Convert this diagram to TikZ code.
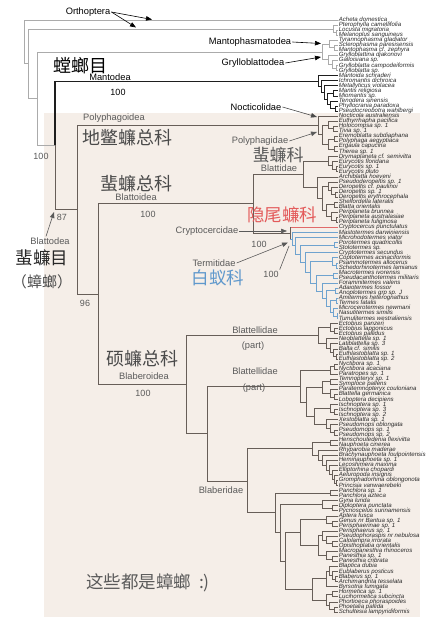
\documentclass[tikz,border=0pt]{standalone}
\usepackage{fontspec}
\setmainfont{Liberation Sans}
\newfontfamily\cjk{Noto Sans CJK SC}
\usetikzlibrary{arrows.meta}
\pgfmathdeclarefunction{ty}{1}{\pgfmathparse{20+5.06*(#1-1)}}
\definecolor{outg}{HTML}{ABABAB}
\definecolor{mant}{HTML}{1E1E1E}
\definecolor{blat}{HTML}{675E58}
\definecolor{term}{HTML}{6FA3CF}
\definecolor{crypt}{HTML}{E06A6A}
\definecolor{bgc}{HTML}{F5EEE8}
\definecolor{tipc}{HTML}{2A2A2A}
\definecolor{graytxt}{HTML}{5A5A5A}
\definecolor{cjkgray}{HTML}{4A4A4A}
\definecolor{redtxt}{HTML}{E35A5A}
\definecolor{bluetxt}{HTML}{5F98CC}
\newcommand\tipnode[2]{\node[tiplab] (t#1) at (338,{ty(#1)}) {#2};}
\newcommand\innode[3]{\coordinate (#1) at (#2,{ty(#3)});}
\newcommand\br[3][]{\draw[#1] (#2) |- (#3);}
\newcommand\brt[2]{\draw (#1) |- (t#2.west);}
\begin{document}
\begin{tikzpicture}[x=1pt,y=-1pt,
  tiplab/.style={anchor=west,inner sep=0.6pt,font=\fontsize{6.1}{6.5}\selectfont\itshape,text=tipc,text height=4.2pt,text depth=1.2pt},
  lab/.style={inner sep=1pt,font=\fontsize{9.3}{11}\selectfont,text=black},
  glab/.style={lab,text=graytxt},
  num/.style={inner sep=1pt,font=\fontsize{9}{10}\selectfont,text=graytxt},
  cjklab/.style={inner sep=1pt,font=\cjk\fontsize{18}{20}\selectfont,text=cjkgray},
  arr/.style={-{Triangle[length=6pt,width=4.5pt]},line width=0.6pt},
  tree/.style={line width=0.7pt}]
\useasboundingbox (0,0) rectangle (430,620);
\fill[white] (0,0) rectangle (430,620);
\fill[bgc] (44,113) rectangle (420,617);

% ---------- tips ----------
\tipnode{1}{Acheta domestica}
\tipnode{2}{Pterophylla camellifolia}
\tipnode{3}{Locusta migratoria}
\tipnode{4}{Melanoplus sanguineus}
\tipnode{5}{Tyrannophasma gladiator}
\tipnode{6}{Sclerophasma paresisensis}
\tipnode{7}{Mantophasma cf. zephyra}
\tipnode{8}{Grylloblattina djakonovi}
\tipnode{9}{Galloisiana sp.}
\tipnode{10}{Grylloblatta campodeiformis}
\tipnode{11}{Grylloblatta sp.}
\tipnode{12}{Mantoida schraderi}
\tipnode{13}{Ichromantis dichroica}
\tipnode{14}{Metallyticus violacea}
\tipnode{15}{Mantis religiosa}
\tipnode{16}{Miomantis sp.}
\tipnode{17}{Tenodera sinensis}
\tipnode{18}{Phyllocrania paradoxa}
\tipnode{19}{Pseudocreobotra wahlbergi}
\tipnode{20}{Nocticola australiensis}
\tipnode{21}{Euthyrrhapha pacifica}
\tipnode{22}{Holocompsa sp. 1}
\tipnode{23}{Tivia sp. 1}
\tipnode{24}{Eremoblatta subdiaphana}
\tipnode{25}{Polyphaga aegyptiaca}
\tipnode{26}{Ergaula capucina}
\tipnode{27}{Therea sp. 1}
\tipnode{28}{Drymaplaneta cf. semivitta}
\tipnode{29}{Eurycotis floridana}
\tipnode{30}{Eurycotis sp. 1}
\tipnode{31}{Eurycotis pluto}
\tipnode{32}{Archiblatta hoeveni}
\tipnode{33}{Pseudoderopeltis sp. 1}
\tipnode{34}{Deropeltis cf. paulinoi}
\tipnode{35}{Deropeltis sp. 1}
\tipnode{36}{Deropeltis erythrocephala}
\tipnode{37}{Shelfordella lateralis}
\tipnode{38}{Blatta orientalis}
\tipnode{39}{Periplaneta brunnea}
\tipnode{40}{Periplaneta australasiae}
\tipnode{41}{Periplaneta fuliginosa}
\tipnode{42}{Cryptocercus punctulatus}
\tipnode{43}{Mastotermes darwiniensis}
\tipnode{44}{Microhodotermes viator}
\tipnode{45}{Porotermes quadricollis}
\tipnode{46}{Stolotermes sp.}
\tipnode{47}{Cryptotermes secundus}
\tipnode{48}{Coptotermes acinaciformis}
\tipnode{49}{Psammotermes allocerus}
\tipnode{50}{Schedorhinotermes lamianus}
\tipnode{51}{Macrotermes ivorensis}
\tipnode{52}{Pseudacanthotermes militaris}
\tipnode{53}{Foraminitermes valens}
\tipnode{54}{Adaiotermes fossor}
\tipnode{55}{Anoplotermes grp sp. J}
\tipnode{56}{Amitermes heterognathus}
\tipnode{57}{Termes fatalis}
\tipnode{58}{Microcerotermes newmani}
\tipnode{59}{Nasutitermes similis}
\tipnode{60}{Tumulitermes westraliensis}
\tipnode{61}{Ectobius panzeri}
\tipnode{62}{Ectobius lapponicus}
\tipnode{63}{Ectobius pallidus}
\tipnode{64}{Neoblattella sp. 1}
\tipnode{65}{Latiblattella sp. 3}
\tipnode{66}{Balta cf. similis}
\tipnode{67}{Euthlastoblatta sp. 1}
\tipnode{68}{Euthlastoblatta sp. 2}
\tipnode{69}{Nyctibora sp. 1}
\tipnode{70}{Nyctibora acaciana}
\tipnode{71}{Paratropes sp. 1}
\tipnode{72}{Temnopteryx sp. 1}
\tipnode{73}{Symploce pallens}
\tipnode{74}{Paratemnopteryx couloniana}
\tipnode{75}{Blattella germanica}
\tipnode{76}{Loboptera decipiens}
\tipnode{77}{Ischnoptera sp. 1}
\tipnode{78}{Ischnoptera sp. 3}
\tipnode{79}{Ischnoptera sp. 2}
\tipnode{80}{Xestoblatta sp. 1}
\tipnode{81}{Pseudomops oblongata}
\tipnode{82}{Pseudomops sp. 1}
\tipnode{83}{Pseudomops sp. 2}
\tipnode{84}{Henschoutedenia flexivitta}
\tipnode{85}{Nauphoeta cinerea}
\tipnode{86}{Rhyparobia maderae}
\tipnode{87}{Brachynauphoeta foulpointensis}
\tipnode{88}{Heminauphoeta sp. 1}
\tipnode{89}{Lecoshimera maxima}
\tipnode{90}{Elliptorhina chopardi}
\tipnode{91}{Aeluropoda insignis}
\tipnode{92}{Gromphadorhina oblongonota}
\tipnode{93}{Princisia vanwaerebeki}
\tipnode{94}{Panchlora sp. 1}
\tipnode{95}{Panchlora azteca}
\tipnode{96}{Gyna lurida}
\tipnode{97}{Diploptera punctata}
\tipnode{98}{Pycnoscelus surinamensis}
\tipnode{99}{Aptera fusca}
\tipnode{100}{Genus nr Bantua sp. 1}
\tipnode{101}{Perisphaerinae sp. 1}
\tipnode{102}{Perisphaerus sp. 1}
\tipnode{103}{Pseudophoraspis nr nebulosa}
\tipnode{104}{Calolampra irrorata}
\tipnode{105}{Opisthoplatia orientalis}
\tipnode{106}{Macropanesthia rhinoceros}
\tipnode{107}{Panesthia sp. 1}
\tipnode{108}{Panesthia cribrata}
\tipnode{109}{Blaptica dubia}
\tipnode{110}{Eublaberus posticus}
\tipnode{111}{Blaberus sp. 1}
\tipnode{112}{Archimandrita tesselata}
\tipnode{113}{Byrsotria fumigata}
\tipnode{114}{Hormetica sp. 1}
\tipnode{115}{Lucihormetica subcincta}
\tipnode{116}{Phortioeca phoraspoides}
\tipnode{117}{Phoetalia pallida}
\tipnode{118}{Schultesia lampyridiformis}

% ---------- internal nodes ----------
\innode{R}{24}{5.33}
\innode{A}{28}{9.65}
\innode{O}{333}{2.75} \innode{O2}{336}{3.5}
\innode{B}{37}{16.55}
\innode{MG}{322}{7.31}
\innode{M}{329}{5.75} \innode{M2}{334}{6.5}
\innode{G}{328}{8.875} \innode{G2}{332}{9.75} \innode{G3}{336}{10.5}
\innode{C}{55}{25.79}
\innode{Ma}{318}{13.08} \innode{Ma2}{321}{14.16} \innode{Ma3}{324}{15.31}
\innode{Ma4}{327}{16.625} \innode{Ma5}{333}{15.5} \innode{Ma6}{330}{17.75} \innode{Ma7}{335}{18.5}
\innode{Bl}{77}{38.5}
\innode{Po}{318}{21.81} \innode{Py}{322}{23.625}
\innode{P1}{328}{21.75} \innode{P1b}{333}{22.5}
\innode{P2}{328}{25.5} \innode{P2a}{334}{24.5} \innode{P2b}{334}{26.5}
\innode{BBB}{98}{55.18}
\innode{Bo}{253}{37.33}
\innode{Bt}{303}{31.5}
\innode{G1n}{328}{28.875} \innode{G1b}{332}{29.75} \innode{G1c}{336}{30.5}
\innode{G2n}{317}{34.125} \innode{G3n}{322}{36.25}
\innode{G4}{328}{33.875} \innode{G4b}{331}{34.75} \innode{G4c}{335}{35.5}
\innode{G5}{326}{38.625} \innode{G5a}{334}{37.5} \innode{G5b}{331}{39.75} \innode{G5c}{336}{40.5}
\innode{CT}{290}{43.15}
\innode{T0}{292}{44.3} \innode{T1}{295}{45.61} \innode{T2}{300}{47.22} \innode{T2a}{334}{45.5}
\innode{T3}{305}{48.94} \innode{T4}{310}{50.88} \innode{T4a}{332}{48.75} \innode{T4b}{336}{49.5}
\innode{T5}{316}{53.02} \innode{T5a}{333}{51.5} \innode{T6}{322}{54.53}
\innode{T7}{326}{56.06} \innode{T7a}{335}{54.5} \innode{T8}{330}{57.625} \innode{T8a}{336}{56.5}
\innode{T9}{333}{58.75} \innode{T9b}{337}{59.5}
\innode{BB}{186}{73.03}
\innode{Bl1}{318}{63.34} \innode{E1}{330}{61.75} \innode{E1b}{334}{62.5}
\innode{E2}{326}{64.94} \innode{E3}{330}{65.875} \innode{E4}{333}{66.75} \innode{E5}{336}{67.5}
\innode{Bl2}{207}{82.72}
\innode{N}{300}{73.36} \innode{N1}{330}{70.25} \innode{N1a}{334}{69.5}
\innode{N2}{306}{76.47} \innode{N3a}{322}{73.625} \innode{N3a1}{330}{72.5} \innode{N3a2}{330}{74.75} \innode{N3a3}{334}{75.5}
\innode{N2b}{314}{79.31} \innode{N3b}{330}{77.75} \innode{N3b1}{334}{78.5}
\innode{N4}{326}{80.875} \innode{N4a}{330}{81.75} \innode{N4b}{334}{82.5}
\innode{Bb}{247}{92.08}
\innode{H1}{312}{85.75} \innode{H1a}{330}{84.5} \innode{H1b}{318}{86.99} \innode{H1c}{322}{87.98}
\innode{H1d}{326}{88.97} \innode{H1e}{329}{89.94} \innode{H1f}{332}{90.875} \innode{H1g}{334}{91.75} \innode{H1h}{336}{92.5}
\innode{H2}{275}{98.4} \innode{Pc}{330}{94.5}
\innode{H3}{280}{102.33} \innode{Gy}{322}{96.75} \innode{Gya}{332}{97.5}
\innode{H4}{285}{107.9}
\innode{H5}{300}{102.28} \innode{H5a}{326}{99.75} \innode{H5a1}{332}{100.5}
\innode{H5b}{318}{104.81} \innode{H5c}{322}{102.875} \innode{H5c1}{326}{103.75} \innode{H5c2}{332}{104.5}
\innode{H5d}{326}{106.75} \innode{H5d1}{332}{107.5}
\innode{H6}{312}{113.53} \innode{H6a}{326}{111.44} \innode{H6a1}{329}{109.875} \innode{H6a2}{332}{110.75} \innode{H6a3}{335}{111.5}
\innode{H6b}{326}{115.625} \innode{H6b1}{332}{114.5} \innode{H6b2}{329}{116.75} \innode{H6b3}{334}{117.5}

% ---------- outgroups ----------
\begin{scope}[tree,color=outg]
\brt{R}{1} \br{R}{A}
\br{A}{O} \br{A}{B}
\brt{O}{2} \br{O}{O2} \brt{O2}{3} \brt{O2}{4}
\br{B}{MG} \br{B}{C}
\br{MG}{M} \br{MG}{G}
\brt{M}{5} \br{M}{M2} \brt{M2}{6} \brt{M2}{7}
\brt{G}{8} \br{G}{G2} \brt{G2}{9} \br{G2}{G3} \brt{G3}{10} \brt{G3}{11}
\end{scope}

% ---------- Mantodea ----------
\begin{scope}[tree,color=mant]
\br[line width=1.1pt]{C}{Ma}
\brt{Ma}{12} \br{Ma}{Ma2} \brt{Ma2}{13} \br{Ma2}{Ma3} \brt{Ma3}{14} \br{Ma3}{Ma4}
\br{Ma4}{Ma5} \br{Ma4}{Ma6} \brt{Ma5}{15} \brt{Ma5}{16}
\brt{Ma6}{17} \br{Ma6}{Ma7} \brt{Ma7}{18} \brt{Ma7}{19}
\end{scope}

% ---------- Blattodea ----------
\begin{scope}[tree,color=blat]
\br{C}{Bl}
\br{Bl}{Po} \br{Bl}{BBB}
\brt{Po}{20} \br{Po}{Py} \br{Py}{P1} \br{Py}{P2}
\brt{P1}{21} \br{P1}{P1b} \brt{P1b}{22} \brt{P1b}{23}
\br{P2}{P2a} \br{P2}{P2b} \brt{P2a}{24} \brt{P2a}{25} \brt{P2b}{26} \brt{P2b}{27}
\br{BBB}{Bo} \br{BBB}{BB}
\br{Bo}{Bt} \br{Bo}{CT}
\br{Bt}{G1n} \br{Bt}{G2n}
\brt{G1n}{28} \br{G1n}{G1b} \brt{G1b}{29} \br{G1b}{G1c} \brt{G1c}{30} \brt{G1c}{31}
\brt{G2n}{32} \br{G2n}{G3n} \br{G3n}{G4} \br{G3n}{G5}
\brt{G4}{33} \br{G4}{G4b} \brt{G4b}{34} \br{G4b}{G4c} \brt{G4c}{35} \brt{G4c}{36}
\br{G5}{G5a} \br{G5}{G5b} \brt{G5a}{37} \brt{G5a}{38}
\brt{G5b}{39} \br{G5b}{G5c} \brt{G5c}{40} \brt{G5c}{41}
% Blaberoidea
\br{BB}{Bl1} \br{BB}{Bl2}
\br{Bl1}{E1} \br{Bl1}{E2}
\brt{E1}{61} \br{E1}{E1b} \brt{E1b}{62} \brt{E1b}{63}
\brt{E2}{64} \br{E2}{E3} \brt{E3}{65} \br{E3}{E4} \brt{E4}{66} \br{E4}{E5} \brt{E5}{67} \brt{E5}{68}
\br{Bl2}{N} \br{Bl2}{Bb}
\br{N}{N1} \br{N}{N2}
\br{N1}{N1a} \brt{N1}{71} \brt{N1a}{69} \brt{N1a}{70}
\br{N2}{N3a} \br{N2}{N2b}
\br{N3a}{N3a1} \br{N3a}{N3a2} \brt{N3a1}{72} \brt{N3a1}{73}
\brt{N3a2}{74} \br{N3a2}{N3a3} \brt{N3a3}{75} \brt{N3a3}{76}
\br{N2b}{N3b} \br{N2b}{N4}
\brt{N3b}{77} \br{N3b}{N3b1} \brt{N3b1}{78} \brt{N3b1}{79}
\brt{N4}{80} \br{N4}{N4a} \brt{N4a}{81} \br{N4a}{N4b} \brt{N4b}{82} \brt{N4b}{83}
\br{Bb}{H1} \br{Bb}{H2}
\br{H1}{H1a} \br{H1}{H1b} \brt{H1a}{84} \brt{H1a}{85}
\brt{H1b}{86} \br{H1b}{H1c} \brt{H1c}{87} \br{H1c}{H1d} \brt{H1d}{88} \br{H1d}{H1e}
\brt{H1e}{89} \br{H1e}{H1f} \brt{H1f}{90} \br{H1f}{H1g} \brt{H1g}{91} \br{H1g}{H1h}
\brt{H1h}{92} \brt{H1h}{93}
\br{H2}{Pc} \br{H2}{H3} \brt{Pc}{94} \brt{Pc}{95}
\br{H3}{Gy} \br{H3}{H4} \brt{Gy}{96} \br{Gy}{Gya} \brt{Gya}{97} \brt{Gya}{98}
\br{H4}{H5} \br{H4}{H6}
\br{H5}{H5a} \br{H5}{H5b} \brt{H5a}{99} \br{H5a}{H5a1} \brt{H5a1}{100} \brt{H5a1}{101}
\br{H5b}{H5c} \br{H5b}{H5d}
\brt{H5c}{102} \br{H5c}{H5c1} \brt{H5c1}{103} \br{H5c1}{H5c2} \brt{H5c2}{104} \brt{H5c2}{105}
\brt{H5d}{106} \br{H5d}{H5d1} \brt{H5d1}{107} \brt{H5d1}{108}
\br{H6}{H6a} \br{H6}{H6b}
\br{H6a}{H6a1} \brt{H6a}{113} \brt{H6a1}{109} \br{H6a1}{H6a2} \brt{H6a2}{110} \br{H6a2}{H6a3}
\brt{H6a3}{111} \brt{H6a3}{112}
\br{H6b}{H6b1} \br{H6b}{H6b2} \brt{H6b1}{114} \brt{H6b1}{115}
\brt{H6b2}{116} \br{H6b2}{H6b3} \brt{H6b3}{117} \brt{H6b3}{118}
\end{scope}

% Cryptocercus and termites
\begin{scope}[tree]
\draw[crypt] (CT) |- (t42.west);
\begin{scope}[color=term]
\br{CT}{T0}
\brt{T0}{43} \br{T0}{T1} \brt{T1}{44} \br{T1}{T2}
\br{T2}{T2a} \br{T2}{T3} \brt{T2a}{45} \brt{T2a}{46}
\brt{T3}{47} \br{T3}{T4}
\br{T4}{T4a} \br{T4}{T5} \brt{T4a}{48} \br{T4a}{T4b} \brt{T4b}{49} \brt{T4b}{50}
\br{T5}{T5a} \br{T5}{T6} \brt{T5a}{51} \brt{T5a}{52}
\brt{T6}{53} \br{T6}{T7}
\br{T7}{T7a} \br{T7}{T8} \brt{T7a}{54} \brt{T7a}{55}
\br{T8}{T8a} \br{T8}{T9} \brt{T8a}{56} \brt{T8a}{57}
\brt{T9}{58} \br{T9}{T9b} \brt{T9b}{59} \brt{T9b}{60}
\end{scope}
\draw[blat] (CT |- t42.west) -- (CT |- T0);
\end{scope}

% ---------- labels ----------
\node[lab] (orth) at (88,12) {Orthoptera};
\coordinate (orthA) at (152,19.5);
\coordinate (orthB) at (136,27.5);
\draw[arr] (orth.east) -- (orthA);
\draw[arr] (orth.east) -- (orthB);

\node[lab] (mph) at (250,42) {Mantophasmatodea};
\coordinate (mphA) at (321,43.5);
\draw[arr] (mph.east) -- (mphA);
\node[lab] (gry) at (253,63) {Grylloblattodea};
\coordinate (gryA) at (321,57);
\draw[arr] (gry.east) -- (gryA);

\node[cjklab,text=black] (tlm) at (80,66) {螳螂目};
\node[lab] (mtd) at (110,77) {Mantodea};
\node[num,text=black] (n1) at (118,92) {100};

\node[lab] (noc) at (256,107) {Nocticolidae};
\coordinate (nocA) at (317,117);
\draw[arr,draw=cjkgray] (noc.east) -- (nocA);
\node[glab] (pph) at (260,141) {Polyphagidae};
\coordinate (pphA) at (317,132);
\draw[arr,draw=graytxt] (pph.east) -- (pphA);
\node[cjklab,font=\cjk\fontsize{17}{19}\selectfont,text=graytxt] (flk) at (278,155) {蜚蠊科};
\node[glab] (btd) at (279,168) {Blattidae};

\node[glab] (ppo) at (114,118) {Polyphagoidea};
\node[cjklab] (dbl) at (127,138) {地鳖蠊总科};
\node[cjklab] (flz) at (136,184) {蜚蠊总科};
\node[glab] (bto) at (136,197) {Blattoidea};
\node[num] (n2) at (148,214) {100};

\node[cjklab,font=\cjk\fontsize{17.5}{19}\selectfont,text=redtxt] (ywl) at (282,215) {隐尾蠊科};
\node[glab] (cry) at (207,231) {Cryptocercidae};
\coordinate (cryA) at (287,231);
\draw[arr,draw=graytxt] (cry.east) -- (cryA);
\node[num] (n3) at (259,244) {100};
\node[glab] (ter) at (214,263) {Termitidae};
\coordinate (terA) at (288,242.5);
\draw[arr,draw=graytxt] (ter.east) -- (terA);
\node[cjklab,font=\cjk\fontsize{17.5}{19}\selectfont,text=bluetxt] (byk) at (218,278) {白蚁科};
\node[num] (n4) at (271,274) {100};
\coordinate (terB) at (289,246);
\draw[graytxt,line width=0.6pt] (n4.north east) -- (terB);

\node[num] (n5) at (41,156) {100};
\node[num] (n6) at (62,217) {87};
\node[glab] (btdea) at (50,241) {Blattodea};
\coordinate (btA) at (54,212);
\draw[arr,draw=graytxt] (btdea.north) ++(-4,0) -- (btA);
\node[cjklab,font=\cjk\fontsize{17.5}{19}\selectfont,text=black!85] (flm) at (42,258) {蜚蠊目};
\node[cjklab,font=\cjk\fontsize{15}{17}\selectfont] (zl) at (42,282) {（蟑螂）};
\node[num] (n7) at (85,303) {96};

\node[cjklab] (sbl) at (142,359) {硕蠊总科};
\node[glab] (bbo) at (144,376) {Blaberoidea};
\node[num] (n8) at (143,393) {100};

\node[glab] (bt1) at (255,330) {Blattellidae};
\node[glab] (pt1) at (253,346) {(part)};
\node[glab] (bt2) at (255,371) {Blattellidae};
\node[glab] (pt2) at (254,388) {(part)};
\node[glab] (bbd) at (221,490) {Blaberidae};

\node[cjklab,font=\cjk\fontsize{17.5}{19}\selectfont,text=graytxt] (end) at (148,583) {这些都是蟑螂\ \ :)};
\end{tikzpicture}
\end{document}
